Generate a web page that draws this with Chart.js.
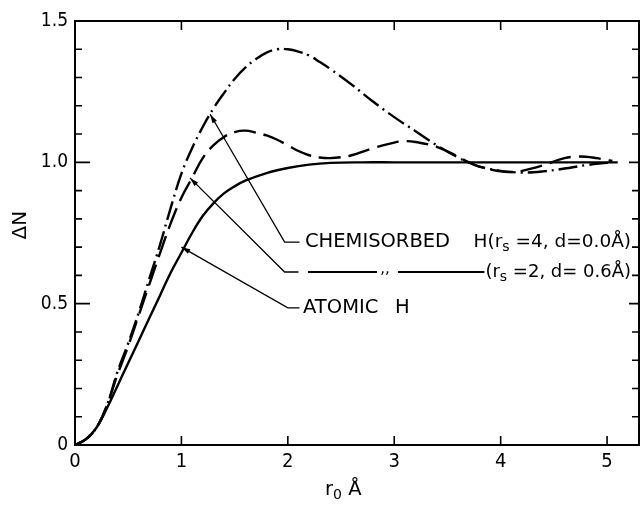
<!DOCTYPE html>
<html>
<head>
<meta charset="utf-8">
<script src="https://cdn.jsdelivr.net/npm/chart.js@4.4.0/dist/chart.umd.min.js"></script>
<style>
  html, body { margin: 0; padding: 0; background: #fff; }
  #wrap { width: 642px; height: 506px; }
</style>
</head>
<body>
<div id="wrap"><canvas id="grafica" width="642" height="506"></canvas></div>
<script>
// Valores: r0 (Å) y ΔN

// ATOMIC H (línea continua)
const atomicX = [0, 0.1, 0.2, 0.3, 0.4, 0.5, 0.6, 0.7, 0.8, 0.9, 1.0, 1.1, 1.2, 1.3, 1.4, 1.5, 1.6, 1.8, 2.0, 2.2, 2.4, 2.7, 3.0, 3.5, 4.0, 4.5, 5.1];
const atomicY = [0, 0.02, 0.06, 0.13, 0.21, 0.29, 0.37, 0.45, 0.53, 0.61, 0.68, 0.75, 0.81, 0.855, 0.89, 0.915, 0.935, 0.962, 0.98, 0.992, 0.998, 1.0, 1.0, 1.0, 1.0, 1.0, 1.0];

// CHEMISORBED H (rs=4, d=0.0 Å) (raya-punto)
const chemX = [0, 0.1, 0.2, 0.3, 0.4, 0.5, 0.6, 0.7, 0.8, 0.9, 1.0, 1.1, 1.2, 1.3, 1.4, 1.5, 1.6, 1.7, 1.8, 1.9, 2.0, 2.1, 2.2, 2.3, 2.4, 2.6, 2.8, 3.0, 3.2, 3.4, 3.6, 3.7, 3.8, 4.0, 4.2, 4.4, 4.6, 4.8, 5.0, 5.05];
const chemY = [0, 0.02, 0.06, 0.14, 0.26, 0.36, 0.47, 0.59, 0.71, 0.84, 0.96, 1.05, 1.125, 1.19, 1.245, 1.295, 1.335, 1.365, 1.388, 1.4, 1.4, 1.392, 1.378, 1.355, 1.33, 1.275, 1.215, 1.16, 1.11, 1.06, 1.017, 1.0, 0.985, 0.97, 0.964, 0.968, 0.978, 0.99, 0.998, 1.0];

// CHEMISORBED H (rs=2, d=0.6 Å) (rayas)
const dispX = [0, 0.1, 0.2, 0.3, 0.4, 0.5, 0.6, 0.7, 0.8, 0.9, 1.0, 1.1, 1.2, 1.3, 1.4, 1.5, 1.6, 1.7, 1.8, 1.9, 2.0, 2.1, 2.2, 2.3, 2.4, 2.5, 2.6, 2.8, 3.0, 3.1, 3.2, 3.4, 3.6, 3.7, 3.8, 4.0, 4.1, 4.2, 4.4, 4.6, 4.7, 4.8, 4.9, 5.0, 5.05];
const dispY = [0, 0.02, 0.06, 0.14, 0.25, 0.35, 0.46, 0.57, 0.68, 0.785, 0.875, 0.945, 1.015, 1.06, 1.09, 1.107, 1.112, 1.105, 1.095, 1.08, 1.06, 1.04, 1.025, 1.017, 1.015, 1.018, 1.025, 1.05, 1.07, 1.075, 1.072, 1.055, 1.02, 1.0, 0.985, 0.968, 0.966, 0.97, 0.99, 1.015, 1.02, 1.02, 1.015, 1.008, 1.005];

const xTicks = [0, 1, 2, 3, 4, 5];
const yTicks = [0, 0.5, 1.0, 1.5];

const FUENTE = '"DejaVu Sans", sans-serif';
const FUENTE_NUM = '"DejaVu Sans Condensed", "DejaVu Sans", sans-serif';

const puntos = (xs, ys) => xs.map((x, i) => ({ x: x, y: ys[i] }));

// Etiquetas con líneas guía (coordenadas en unidades de los ejes)
// desde = texto alineado a la izquierda, hasta = alineado a la derecha
const guias = [
    { punta: [1.27, 1.17], codo: [1.97, 0.718], fin: 2.11,
      textos: [
          { desde: 2.161, partes: [{ t: 'CHEMISORBED' }] },
          { hasta: 5.225, partes: [{ t: 'H(r', tam: 18.5 }, { t: 's', sub: true }, { t: ' =4, d=0.0Å)', tam: 18.5 }] }
      ] },
    { punta: [1.08, 0.945], codo: [1.97, 0.612], fin: 2.10,
      muestra: [2.19, 2.838], comillas: 2.913, muestra2: 3.035,
      textos: [
          { hasta: 5.225, partes: [{ t: '(r', tam: 18 }, { t: 's', sub: true }, { t: ' =2, d= 0.6Å)', tam: 18 }] }
      ] },
    { punta: [1.0, 0.70], codo: [2.0, 0.485], fin: 2.11,
      textos: [
          { desde: 2.143, partes: [{ t: 'ATOMIC' }] },
          { desde: 3.007, partes: [{ t: 'H' }] }
      ] }
];

function flecha(ctx, x0, y0, x1, y1) {
    const ang = Math.atan2(y1 - y0, x1 - x0);
    const L = 9, W = 2.6;
    ctx.beginPath();
    ctx.moveTo(x1, y1);
    ctx.lineTo(x1 - L * Math.cos(ang) + W * Math.sin(ang), y1 - L * Math.sin(ang) - W * Math.cos(ang));
    ctx.lineTo(x1 - L * Math.cos(ang) - W * Math.sin(ang), y1 - L * Math.sin(ang) + W * Math.cos(ang));
    ctx.closePath();
    ctx.fill();
}

function fuenteParte(p) {
    if (p.sub) return `14px ${FUENTE}`;
    return `${p.tam || 19.5}px ${FUENTE}`;
}

function anchoRico(ctx, partes) {
    let w = 0;
    partes.forEach(p => { ctx.font = fuenteParte(p); w += ctx.measureText(p.t).width; });
    return w;
}

function textoRico(ctx, x, y, partes) {
    partes.forEach(p => {
        ctx.font = fuenteParte(p);
        ctx.fillText(p.t, x, p.sub ? y + 5 : y);
        x += ctx.measureText(p.t).width;
    });
    return x;
}

const marcoPlugin = {
    id: 'marco',
    afterDraw(chart) {
        const { ctx, chartArea: a, scales: { x, y } } = chart;
        ctx.save();
        ctx.strokeStyle = '#000';
        ctx.fillStyle = '#000';

        // Marco
        ctx.lineWidth = 2;
        ctx.strokeRect(a.left, a.top, a.right - a.left, a.bottom - a.top);

        // Marcas hacia dentro
        ctx.lineWidth = 1.6;
        ctx.beginPath();
        for (let i = 1; i < 15; i++) {
            const py = y.getPixelForValue(i / 10);
            const mayor = i % 5 === 0;
            ctx.moveTo(a.left, py); ctx.lineTo(a.left + (mayor ? 15 : 7), py);
            ctx.moveTo(a.right, py); ctx.lineTo(a.right - (mayor ? 10 : 7), py);
        }
        xTicks.forEach(v => {
            if (v === 0) return;
            const px = x.getPixelForValue(v);
            ctx.moveTo(px, a.bottom); ctx.lineTo(px, a.bottom - 9);
            ctx.moveTo(px, a.top); ctx.lineTo(px, a.top + 9);
        });
        ctx.stroke();

        // Líneas guía y textos
        ctx.textBaseline = 'middle';
        ctx.textAlign = 'left';
        guias.forEach(g => {
            const tx = x.getPixelForValue(g.punta[0]), ty = y.getPixelForValue(g.punta[1]);
            const cx = x.getPixelForValue(g.codo[0]), cy = y.getPixelForValue(g.codo[1]);
            const fx = x.getPixelForValue(g.fin);
            ctx.lineWidth = 1.3;
            ctx.beginPath();
            ctx.moveTo(fx, cy);
            ctx.lineTo(cx, cy);
            ctx.lineTo(tx, ty);
            ctx.stroke();
            flecha(ctx, cx, cy, tx, ty);

            let inicioTexto = null;
            g.textos.forEach(t => {
                let px;
                if (t.hasta !== undefined) {
                    px = x.getPixelForValue(t.hasta) - anchoRico(ctx, t.partes);
                } else {
                    px = x.getPixelForValue(t.desde);
                }
                if (inicioTexto === null) inicioTexto = px;
                textoRico(ctx, px, cy, t.partes);
            });

            if (g.muestra) {
                ctx.lineWidth = 1.8;
                ctx.beginPath();
                ctx.moveTo(x.getPixelForValue(g.muestra[0]), cy);
                ctx.lineTo(x.getPixelForValue(g.muestra[1]), cy);
                ctx.moveTo(x.getPixelForValue(g.muestra2), cy);
                ctx.lineTo(inicioTexto - 1, cy);
                ctx.stroke();
                ctx.font = `15px ${FUENTE}`;
                ctx.textAlign = 'center';
                ctx.fillText(',,', x.getPixelForValue(g.comillas), cy - 3);
                ctx.textAlign = 'left';
            }
        });

        // Títulos de los ejes
        textoRico(ctx, x.getPixelForValue(2.35), a.bottom + 45, [{ t: 'r' }, { t: '0', sub: true }, { t: ' Å' }]);
        ctx.save();
        ctx.translate(a.left - 54, y.getPixelForValue(0.778));
        ctx.rotate(-Math.PI / 2);
        ctx.textAlign = 'center';
        ctx.font = `20px ${FUENTE}`;
        ctx.fillText('ΔN', 0, 0);
        ctx.restore();

        ctx.restore();
    }
};

new Chart(document.getElementById('grafica'), {
    type: 'line',
    data: {
        datasets: [
            {
                label: 'ATOMIC H',
                data: puntos(atomicX, atomicY),
                borderColor: '#000', borderWidth: 2.4,
                pointRadius: 0, tension: 0.4, fill: false
            },
            {
                label: 'CHEMISORBED H (rs=4, d=0.0Å)',
                data: puntos(chemX, chemY),
                borderColor: '#000', borderWidth: 2.4, borderDash: [19, 5, 2, 5],
                pointRadius: 0, tension: 0.4, fill: false
            },
            {
                label: 'CHEMISORBED H (rs=2, d=0.6Å)',
                data: puntos(dispX, dispY),
                borderColor: '#000', borderWidth: 2.4, borderDash: [22, 8],
                pointRadius: 0, tension: 0.4, fill: false
            }
        ]
    },
    options: {
        responsive: false,
        animation: false,
        layout: { padding: { top: 21, right: 3, left: 0, bottom: 0 } },
        plugins: { legend: { display: false }, tooltip: { enabled: false } },
        scales: {
            x: {
                type: 'linear', min: 0, max: 5.3,
                afterBuildTicks: s => { s.ticks = xTicks.map(v => ({ value: v })); },
                afterFit: s => { s.height = 61; },
                grid: { display: false, drawTicks: false },
                border: { display: false },
                ticks: { color: '#000', padding: 5, maxRotation: 0, font: { family: FUENTE_NUM, size: 20 },
                         callback: v => String(v) },
                title: { display: false }
            },
            y: {
                type: 'linear', min: 0, max: 1.5,
                afterBuildTicks: s => { s.ticks = yTicks.map(v => ({ value: v })); },
                afterFit: s => { s.width = 75; },
                grid: { display: false, drawTicks: false },
                border: { display: false },
                ticks: { color: '#000', padding: 7, font: { family: FUENTE_NUM, size: 19 },
                         callback: v => v === 0 ? '0' : v.toFixed(1) },
                title: { display: false }
            }
        }
    },
    plugins: [marcoPlugin]
});
</script>
</body>
</html>
